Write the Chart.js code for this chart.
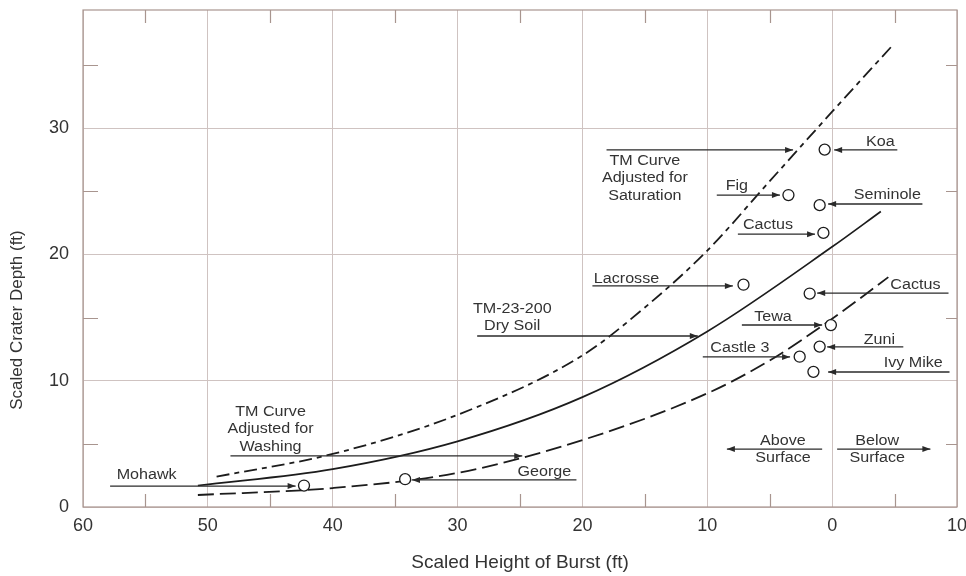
<!DOCTYPE html>
<html>
<head>
<meta charset="utf-8">
<title>Scaled Crater Depth vs Scaled Height of Burst</title>
<script src="https://cdn.jsdelivr.net/npm/chart.js@4.4.1/dist/chart.umd.min.js"></script>
<style>
  html, body { margin: 0; padding: 0; background: #fff; }
  #wrap { width: 966px; height: 576px; }
</style>
</head>
<body>
<div id="wrap"><canvas id="crater" width="966" height="576"></canvas></div>
<script>
// Test shots (open circles)
const SHOT_NAMES = ['Koa', 'Fig', 'Seminole', 'Cactus', 'Lacrosse', 'Cactus', 'Tewa', 'Zuni', 'Castle 3', 'Ivy Mike', 'George', 'Mohawk'];
const SHOT_HOB = [0.6, 3.5, 1.0, 0.7, 7.1, 1.8, 0.1, 1.0, 2.6, 1.5, 34.2, 42.3];
const SHOT_DEPTH = [28.3, 24.7, 23.9, 21.7, 17.6, 16.9, 14.4, 12.7, 11.9, 10.7, 2.2, 1.7];

// TM-23-200 dry soil curve (solid)
const DRY_HOB = [50.8, 40, 30, 20, 10, 0, -3.9];
const DRY_DEPTH = [1.7, 3.0, 5.2, 8.7, 13.9, 20.6, 23.4];

// TM curve adjusted for saturation (dash-dot)
const SAT_HOB = [49.3, 40, 30, 20, 15, 10, 5, 0, -4.7];
const SAT_DEPTH = [2.4, 4.2, 7.3, 12.0, 15.8, 20.3, 25.8, 31.3, 36.4];

// TM curve adjusted for washing (long dash)
const WASH_HOB = [50.8, 40, 30, 20, 10, 5, 0, -4.5];
const WASH_DEPTH = [0.95, 1.5, 2.7, 5.3, 9.0, 11.6, 14.9, 18.2];

const X_TICKS = [60, 50, 40, 30, 20, 10, 0, -10];
const Y_TICKS = [0, 10, 20, 30];
const MINOR_X = [55, 45, 35, 25, 15, 5, -5];
const MINOR_Y = [5, 15, 25, 35];

// callout labels and arrows (data units); arrow head sits at "to"
const CALLOUTS = [
  { text: ['Koa'], tx: -3.86, ty: 28.9, y: 28.27, from: -5.22, to: -0.16 },
  { text: ['TM Curve', 'Adjusted for', 'Saturation'], tx: 15.0, ty: 27.4, y: 28.27, from: 18.07, to: 3.13 },
  { text: ['Fig'], tx: 7.63, ty: 25.4, y: 24.7, from: 9.24, to: 4.18 },
  { text: ['Seminole'], tx: -4.42, ty: 24.7, y: 23.99, from: -7.23, to: 0.32 },
  { text: ['Cactus'], tx: 5.14, ty: 22.33, y: 21.6, from: 7.55, to: 1.37 },
  { text: ['Lacrosse'], tx: 16.47, ty: 18.05, y: 17.5, from: 19.2, to: 7.95 },
  { text: ['Cactus'], tx: -6.67, ty: 17.58, y: 16.94, from: -9.32, to: 1.2 },
  { text: ['TM-23-200', 'Dry Soil'], tx: 25.62, ty: 15.68, y: 13.54, from: 28.43, to: 10.76 },
  { text: ['Tewa'], tx: 4.74, ty: 15.04, y: 14.41, from: 7.23, to: 0.8 },
  { text: ['Zuni'], tx: -3.78, ty: 13.22, y: 12.67, from: -5.7, to: 0.4 },
  { text: ['Castle 3'], tx: 7.39, ty: 12.59, y: 11.88, from: 10.36, to: 3.37 },
  { text: ['Ivy Mike'], tx: -6.5, ty: 11.4, y: 10.69, from: -9.4, to: 0.32 },
  { text: ['TM Curve', 'Adjusted for', 'Washing'], tx: 44.98, ty: 7.52, y: 4.04, from: 48.19, to: 24.82 },
  { text: ['Mohawk'], tx: 54.9, ty: 2.53, y: 1.66, from: 57.83, to: 42.97 },
  { text: ['George'], tx: 23.05, ty: 2.77, y: 2.14, from: 20.48, to: 33.65 },
  { text: ['Above', 'Surface'], tx: 3.94, ty: 5.23, y: 4.59, from: 0.8, to: 8.43 },
  { text: ['Below', 'Surface'], tx: -3.61, ty: 5.23, y: 4.59, from: -0.4, to: -7.87 }
];

const INK = '#1c1c1c';
const TEXT = '#333';
const GRID = '#cfc3c1';
const FRAME = '#a8958f';
const FONT = '"Liberation Sans", Arial, Helvetica, sans-serif';

const toXY = (xs, ys) => xs.map((x, i) => ({ x, y: ys[i] }));

function curve(label, xs, ys, dash, width) {
  return {
    label,
    data: toXY(xs, ys),
    showLine: true,
    borderColor: INK,
    borderWidth: width,
    borderDash: dash,
    pointRadius: 0,
    pointHoverRadius: 0,
    cubicInterpolationMode: 'monotone',
    fill: false
  };
}

function drawArrowHead(ctx, x, y, dir) {
  ctx.beginPath();
  ctx.moveTo(x, y);
  ctx.lineTo(x - dir * 8, y - 3);
  ctx.lineTo(x - dir * 8, y + 3);
  ctx.closePath();
  ctx.fill();
}

function stretchedText(ctx, str, px, py) {
  ctx.save();
  ctx.translate(px, py);
  ctx.scale(1.15, 1);
  ctx.fillText(str, 0, 0);
  ctx.restore();
}

const decorPlugin = {
  id: 'decor',
  afterDraw(chart) {
    const { ctx, chartArea: a, scales: { x, y } } = chart;
    ctx.save();

    // frame and inward minor ticks
    ctx.strokeStyle = FRAME;
    ctx.lineWidth = 1.2;
    ctx.strokeRect(a.left, a.top, a.right - a.left, a.bottom - a.top);
    ctx.beginPath();
    MINOR_X.forEach(v => {
      const px = Math.round(x.getPixelForValue(v)) + 0.5;
      ctx.moveTo(px, a.top); ctx.lineTo(px, a.top + 13);
      ctx.moveTo(px, a.bottom); ctx.lineTo(px, a.bottom - 13);
    });
    MINOR_Y.forEach(v => {
      const py = Math.round(y.getPixelForValue(v)) + 0.5;
      ctx.moveTo(a.left, py); ctx.lineTo(a.left + 15, py);
      ctx.moveTo(a.right, py); ctx.lineTo(a.right - 11, py);
    });
    ctx.stroke();

    // callouts
    ctx.strokeStyle = '#2a2a2a';
    ctx.fillStyle = '#2a2a2a';
    ctx.lineWidth = 1.3;
    CALLOUTS.forEach(c => {
      const py = y.getPixelForValue(c.y);
      const x1 = x.getPixelForValue(c.from);
      const x2 = x.getPixelForValue(c.to);
      ctx.beginPath();
      ctx.moveTo(x1, py);
      ctx.lineTo(x2, py);
      ctx.stroke();
      drawArrowHead(ctx, x2, py, x2 > x1 ? 1 : -1);
    });

    ctx.fillStyle = TEXT;
    ctx.font = '14px ' + FONT;
    ctx.textAlign = 'center';
    ctx.textBaseline = 'middle';
    CALLOUTS.forEach(c => {
      const px = x.getPixelForValue(c.tx);
      const py = y.getPixelForValue(c.ty);
      c.text.forEach((t, i) => stretchedText(ctx, t, px, py + i * 17.5));
    });

    // y axis title
    ctx.font = '17px ' + FONT;
    ctx.translate(17, 320);
    ctx.rotate(-Math.PI / 2);
    ctx.fillText('Scaled Crater Depth (ft)', 0, 0);
    ctx.restore();
  }
};

const shots = {
  label: 'Test shots',
  data: toXY(SHOT_HOB, SHOT_DEPTH),
  showLine: false,
  pointStyle: 'circle',
  pointRadius: 5.5,
  pointHoverRadius: 5.5,
  pointBorderWidth: 1.3,
  pointBorderColor: INK,
  pointBackgroundColor: '#fff'
};

new Chart(document.getElementById('crater'), {
  type: 'scatter',
  data: {
    datasets: [
      shots,
      curve('TM-23-200 Dry Soil', DRY_HOB, DRY_DEPTH, [], 1.7),
      curve('TM Curve Adjusted for Saturation', SAT_HOB, SAT_DEPTH, [13, 5, 5, 5], 1.8),
      curve('TM Curve Adjusted for Washing', WASH_HOB, WASH_DEPTH, [16, 6], 1.8)
    ]
  },
  options: {
    responsive: false,
    animation: false,
    events: [],
    layout: { padding: { top: 10, right: 9, left: 0, bottom: 0 } },
    plugins: { legend: { display: false }, tooltip: { enabled: false } },
    scales: {
      x: {
        type: 'linear',
        reverse: true,
        min: -10,
        max: 60,
        afterBuildTicks: s => { s.ticks = X_TICKS.map(v => ({ value: v })); },
        afterFit: s => { s.height = 69; s.paddingLeft = 0; s.paddingRight = 0; },
        ticks: {
          autoSkip: false,
          maxRotation: 0,
          padding: 8,
          color: TEXT,
          font: { family: FONT, size: 18 },
          callback: v => String(Math.abs(v))
        },
        grid: { color: GRID, lineWidth: 1, drawTicks: false },
        border: { display: false },
        title: {
          display: true,
          text: 'Scaled Height of Burst (ft)',
          color: TEXT,
          font: { family: FONT, size: 19 },
          padding: { top: 0, bottom: 2 }
        }
      },
      y: {
        type: 'linear',
        min: 0,
        max: 39.35,
        afterBuildTicks: s => { s.ticks = Y_TICKS.map(v => ({ value: v })); },
        afterFit: s => { s.width = 83; s.paddingTop = 0; s.paddingBottom = 0; },
        ticks: {
          padding: 14,
          color: TEXT,
          font: { family: FONT, size: 18 }
        },
        grid: { color: GRID, lineWidth: 1, drawTicks: false },
        border: { display: false }
      }
    }
  },
  plugins: [decorPlugin]
});
</script>
</body>
</html>
